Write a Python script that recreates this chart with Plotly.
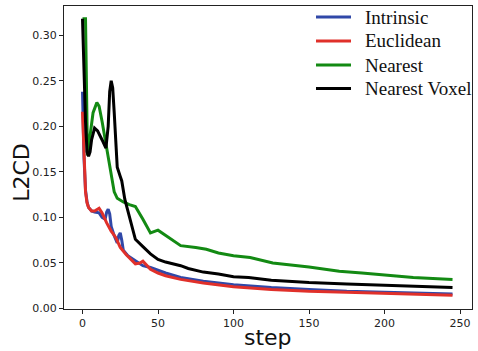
import plotly.graph_objects as go

# Intrinsic
intr_x = [0, 1, 2, 3, 4, 6, 8, 11, 13, 15, 16, 17, 18, 19, 21, 23, 24, 25, 26, 27, 30, 35, 40, 45, 50, 55, 65, 80, 100, 125, 150, 175, 200, 225, 245]
intr_y = [0.238, 0.165, 0.130, 0.117, 0.111, 0.107, 0.106, 0.105, 0.100, 0.098, 0.106, 0.109, 0.104, 0.090, 0.080, 0.072, 0.080, 0.083, 0.075, 0.064, 0.058, 0.052, 0.047, 0.045, 0.042, 0.039, 0.034, 0.030, 0.026, 0.023, 0.021, 0.019, 0.018, 0.017, 0.016]

# Euclidean
eucl_x = [0, 1, 2, 3, 4, 6, 8, 11, 13, 16, 19, 22, 25, 29, 35, 38, 40, 45, 50, 55, 65, 80, 100, 125, 150, 175, 200, 225, 245]
eucl_y = [0.216, 0.160, 0.128, 0.116, 0.111, 0.107, 0.107, 0.110, 0.105, 0.094, 0.085, 0.078, 0.067, 0.059, 0.049, 0.050, 0.052, 0.043, 0.039, 0.036, 0.032, 0.028, 0.024, 0.021, 0.019, 0.018, 0.0168, 0.0157, 0.0146]

# Nearest
near_x = [0, 2, 3.3, 5, 7, 9.5, 11, 13, 15, 17, 19, 21, 23, 27, 31, 35, 40, 45, 50, 55, 65, 75, 82, 90, 100, 111, 126, 150, 170, 185, 200, 219, 245]
near_y = [0.318, 0.318, 0.168, 0.190, 0.215, 0.226, 0.222, 0.205, 0.185, 0.163, 0.143, 0.128, 0.121, 0.117, 0.114, 0.112, 0.098, 0.083, 0.086, 0.080, 0.069, 0.067, 0.065, 0.061, 0.058, 0.056, 0.050, 0.0456, 0.041, 0.039, 0.0365, 0.034, 0.032]

# Nearest Voxel
vox_x = [0, 1, 2, 3, 4, 5, 6, 8, 10, 13, 15.5, 17, 18, 19, 20, 21, 22, 23, 25, 26, 28, 31, 35, 40, 45, 50, 55, 65, 70, 80, 90, 100, 110, 125, 150, 175, 200, 225, 245]
vox_y = [0.318, 0.255, 0.205, 0.172, 0.167, 0.172, 0.185, 0.198, 0.195, 0.185, 0.176, 0.200, 0.238, 0.250, 0.242, 0.215, 0.180, 0.155, 0.145, 0.140, 0.120, 0.100, 0.076, 0.068, 0.060, 0.054, 0.051, 0.047, 0.044, 0.040, 0.038, 0.035, 0.034, 0.031, 0.0285, 0.027, 0.0255, 0.024, 0.023]

x_ticks = [0, 50, 100, 150, 200, 250]
y_ticks = [0.00, 0.05, 0.10, 0.15, 0.20, 0.25, 0.30]

series = [
    ("Intrinsic", intr_x, intr_y, "#3048a8"),
    ("Euclidean", eucl_x, eucl_y, "#e0302a"),
    ("Nearest", near_x, near_y, "#138a13"),
    ("Nearest Voxel", vox_x, vox_y, "#000000"),
]

fig = go.Figure()
for name, xs, ys, col in series:
    fig.add_trace(go.Scatter(x=xs, y=ys, mode="lines", name=name,
                             line=dict(color=col, width=3), showlegend=False))

# manual legend (paper coordinates; plot area 64..472 x 6..309 px)
W, H = 408.0, 303.0
leg_rows_px = [17, 41, 65, 88.5]
shapes = []
annotations = []
for (name, _, _, col), py in zip(series, leg_rows_px):
    yp = (309 - py) / H
    shapes.append(dict(type="line", xref="paper", yref="paper",
                       x0=(316 - 64) / W, x1=(351 - 64) / W, y0=yp, y1=yp,
                       line=dict(color=col, width=3)))
    annotations.append(dict(text=name, xref="paper", yref="paper",
                            x=(363 - 64) / W, y=yp, xanchor="left", yanchor="middle",
                            showarrow=False,
                            font=dict(family="Liberation Serif", size=19, color="#111")))

annotations += [
    dict(text="L2CD", xref="paper", yref="paper", x=-0.105, y=0.45,
         textangle=-90, showarrow=False, xanchor="center", yanchor="middle",
         font=dict(family="DejaVu Sans", size=22, color="#111")),
    dict(text="step", xref="paper", yref="paper", x=0.5, y=-0.095,
         showarrow=False, xanchor="center", yanchor="middle",
         font=dict(family="DejaVu Sans", size=22, color="#111")),
]

axis_common = dict(showline=True, mirror=True, linecolor="#222", linewidth=1,
                   ticks="outside", ticklen=4, tickcolor="#222", showgrid=False,
                   zeroline=False,
                   tickfont=dict(family="DejaVu Sans", size=11, color="#222"))

fig.update_layout(
    width=478, height=351,
    margin=dict(l=64, r=6, t=6, b=42),
    plot_bgcolor="white", paper_bgcolor="white",
    xaxis=dict(range=[-12.25, 257.9], tickvals=x_ticks, **axis_common),
    yaxis=dict(range=[-0.0005, 0.332], tickvals=y_ticks, tickformat=".2f", **axis_common),
    showlegend=False,
    shapes=shapes,
    annotations=annotations,
)

fig.write_html("out.html", config={"displayModeBar": False},
               post_script="document.body.style.margin='0';document.body.style.overflow='hidden';")
